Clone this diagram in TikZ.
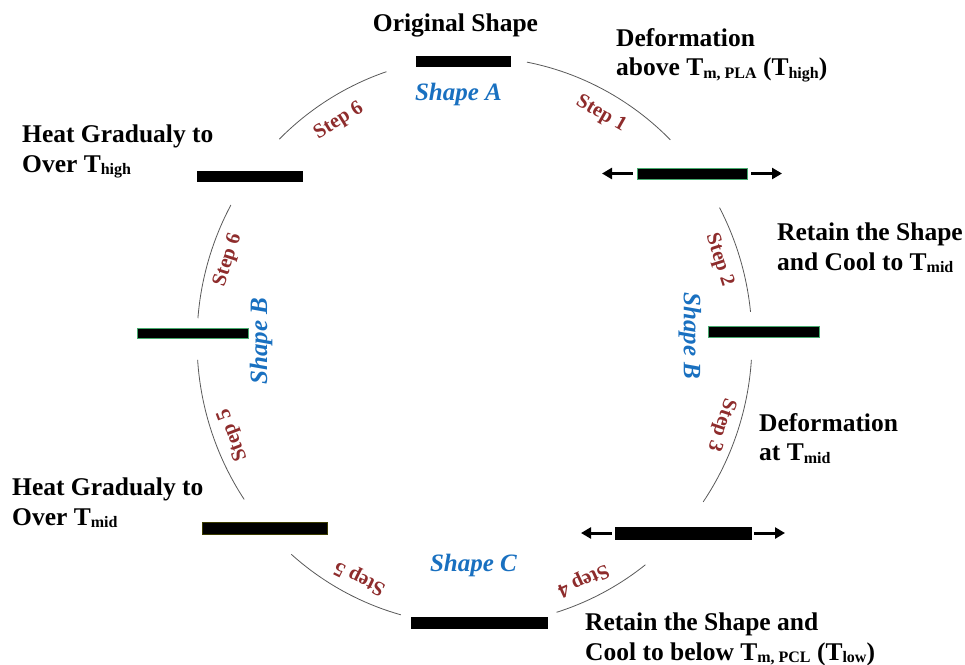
\documentclass[tikz,border=0pt]{standalone}
\usepackage{fontspec}
\setmainfont{Liberation Serif}
\usetikzlibrary{arrows.meta}
\definecolor{stepred}{RGB}{142,44,44}
\definecolor{shapeblue}{RGB}{25,112,192}
\definecolor{rimgreen}{RGB}{70,170,110}
\definecolor{rimolive}{RGB}{60,60,0}
% lowered subscript used for the temperature labels
\newcommand\lsub[1]{\raisebox{-2.5pt}{\fontsize{16}{16}\selectfont #1}}
\begin{document}
\begin{tikzpicture}[x=1pt,y=-1pt,
  bar/.style={fill=black,draw=black,line width=0.8pt,inner sep=0pt},
  greenbar/.style={bar,draw=rimgreen},
  olivebar/.style={bar,draw=rimolive,line width=0.6pt},
  cyc/.style={draw=black!65,line width=0.8pt},
  pull/.style={line width=3pt,-{Triangle[length=10pt,width=11pt]}},
  caption/.style={font=\bfseries\fontsize{25.5}{29.5}\selectfont,align=left,inner sep=0pt,anchor=north west},
  steplabel/.style={font=\bfseries\fontsize{20.5}{20.5}\selectfont,text=stepred,inner sep=0pt},
  shapelabel/.style={font=\bfseries\itshape\fontsize{25}{25}\selectfont,text=shapeblue,inner sep=0pt}]
\useasboundingbox (0,0) rectangle (965,664);

% cycle arcs between the bars
\coordinate (ctr) at (474.5,341);
\foreach \a/\b in {-134.7/-108.5,-79.1/-45.1,-28/-5.9,3.8/34.5,52/72.8,105.4/131.3,146.1/176.2,184.6/208.6}
  \draw[cyc] (ctr) ++(\a:277.5 and 284) arc[start angle=\a,end angle=\b,x radius=277.5,y radius=284];

% bars
\node[bar,minimum width=94pt,minimum height=10pt] (barA) at (463,61) {};
\node[greenbar,minimum width=110pt,minimum height=11pt] (barR1) at (692,173.5) {};
\node[greenbar,minimum width=111pt,minimum height=11pt] (barR2) at (763.5,331.5) {};
\node[bar,minimum width=136pt,minimum height=12pt] (barR3) at (683,533) {};
\node[bar,minimum width=136pt,minimum height=11pt] (barC) at (479,622.5) {};
\node[olivebar,minimum width=125pt,minimum height=12pt] (barL3) at (264.5,528.5) {};
\node[bar,minimum width=105pt,minimum height=10pt] (barL1) at (249.5,176) {};
\node[greenbar,minimum width=111pt,minimum height=10pt] (barL2) at (192.5,333) {};

% stretching arrows
\coordinate (r1l) at (602,173.5);
\coordinate (r1r) at (782,173.5);
\coordinate (r3l) at (581,533);
\coordinate (r3r) at (785,533);
\draw[pull] ([xshift=-4pt]barR1.west) -- (r1l);
\draw[pull] ([xshift=4pt]barR1.east) -- (r1r);
\draw[pull] ([xshift=-3pt]barR3.west) -- (r3l);
\draw[pull] ([xshift=3pt]barR3.east) -- (r3r);

% captions
\node[caption,anchor=north] (orig) at (455.5,14) {Original Shape};
\node[caption] (def1) at (616,28) {Deformation\\above T\lsub{m, PLA} (T\lsub{high})};
\node[caption] (ret1) at (777,223) {Retain the Shape\\and Cool to T\lsub{mid}};
\node[caption] (def2) at (759,413) {Deformation\\at T\lsub{mid}};
\node[caption] (ret2) at (585,613) {Retain the Shape and\\Cool to below T\lsub{m, PCL} (T\lsub{low})};
\node[caption] (heat2) at (12,478) {Heat Gradualy to\\Over T\lsub{mid}};
\node[caption] (heat1) at (22,125) {Heat Gradualy to\\Over T\lsub{high}};

% shape names
\node[shapelabel] (shA) at (458.5,94) {Shape A};
\node[shapelabel,rotate=-90] (shBr) at (690,336) {Shape B};
\node[shapelabel,rotate=90] (shBl) at (261,341) {Shape B};
\node[shapelabel] (shC) at (473.5,565) {Shape C};

% step names along the cycle
\node[steplabel,rotate=-29.6] (s1) at (601,114) {Step 1};
\node[steplabel,rotate=-72] (s2) at (719,260) {Step 2};
\node[steplabel,rotate=-108.4] (s3) at (721,425) {Step 3};
\node[steplabel,rotate=204.9] (s4) at (583,580) {Step 4};
\node[steplabel,rotate=153.7] (s5b) at (360,578) {Step 5};
\node[steplabel,rotate=110.8] (s5l) at (233,435) {Step 5};
\node[steplabel,rotate=72.2] (s6l) at (228,260) {Step 6};
\node[steplabel,rotate=31.9] (s6t) at (339,121) {Step 6};
\end{tikzpicture}
\end{document}
